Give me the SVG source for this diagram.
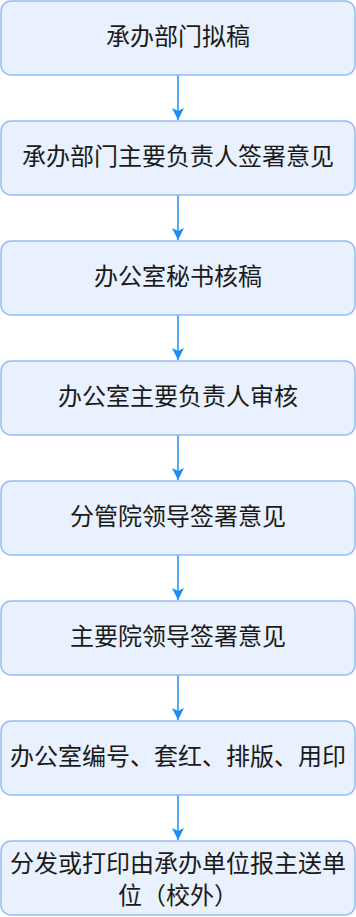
<svg xmlns="http://www.w3.org/2000/svg" width="356" height="917" viewBox="0 0 356 917">
<defs>
<style>
.box{fill:#e8f1fd;stroke:#94bdf4;stroke-width:1.5}
.t{font-family:"Noto Sans CJK SC","Noto Sans",sans-serif;font-size:24px;fill:#1a1a1a;text-anchor:middle}
.c{stroke:#1e8ef5;stroke-width:1.5;fill:none}
</style>
<marker id="ah" viewBox="0 0 12 12" refX="12" refY="6" markerWidth="12" markerHeight="12" markerUnits="userSpaceOnUse" orient="auto">
<path d="M0,0 L12,6 L0,12 L3,6 Z" fill="#1e8ef5"/>
</marker>
</defs>
<rect width="356" height="917" fill="#ffffff"/>
<g id="connectors">
<line class="c" x1="178" y1="75" x2="178" y2="120" marker-end="url(#ah)"/>
<line class="c" x1="178" y1="195" x2="178" y2="240" marker-end="url(#ah)"/>
<line class="c" x1="178" y1="315" x2="178" y2="360" marker-end="url(#ah)"/>
<line class="c" x1="178" y1="435" x2="178" y2="480" marker-end="url(#ah)"/>
<line class="c" x1="178" y1="555" x2="178" y2="600" marker-end="url(#ah)"/>
<line class="c" x1="178" y1="675" x2="178" y2="720" marker-end="url(#ah)"/>
<line class="c" x1="178" y1="795" x2="178" y2="840" marker-end="url(#ah)"/>
</g>
<g id="n1"><rect class="box" x="1" y="1" width="354" height="74" rx="10"/><text class="t" x="178" y="45">承办部门拟稿</text></g>
<g id="n2"><rect class="box" x="1" y="121" width="354" height="74" rx="10"/><text class="t" x="178" y="165">承办部门主要负责人签署意见</text></g>
<g id="n3"><rect class="box" x="1" y="241" width="354" height="74" rx="10"/><text class="t" x="178" y="285">办公室秘书核稿</text></g>
<g id="n4"><rect class="box" x="1" y="361" width="354" height="74" rx="10"/><text class="t" x="178" y="405">办公室主要负责人审核</text></g>
<g id="n5"><rect class="box" x="1" y="481" width="354" height="74" rx="10"/><text class="t" x="178" y="525">分管院领导签署意见</text></g>
<g id="n6"><rect class="box" x="1" y="601" width="354" height="74" rx="10"/><text class="t" x="178" y="645">主要院领导签署意见</text></g>
<g id="n7"><rect class="box" x="1" y="721" width="354" height="74" rx="10"/><text class="t" x="178" y="765">办公室编号、套红、排版、用印</text></g>
<g id="n8"><rect class="box" x="1" y="841" width="354" height="74" rx="10"/><text class="t" x="178" y="872">分发或打印由承办单位报主送单</text><text class="t" x="178" y="904">位（校外）</text></g>
</svg>
